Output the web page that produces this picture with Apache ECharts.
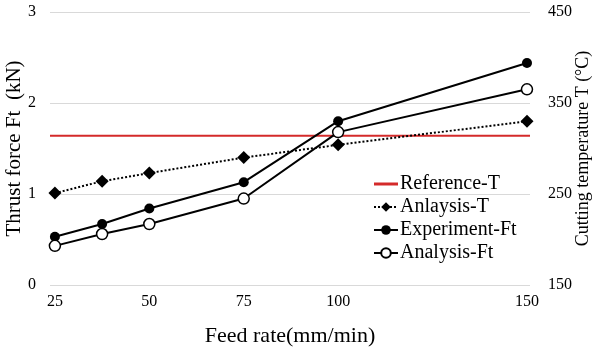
<!DOCTYPE html>
<html>
<head>
<meta charset="utf-8">
<script src="https://cdn.jsdelivr.net/npm/echarts@6/dist/echarts.min.js"></script>
<style>
  html, body { margin: 0; padding: 0; background: #fff; }
  #chart { width: 600px; height: 354px; }
</style>
</head>
<body>
<div id="chart"></div>
<script>
// feed rate (mm/min)
var feedRate = [25, 37.5, 50, 75, 100, 150];
var xTicks = [25, 50, 75, 100, 150];
// temperatures (right axis, °C)
var referenceT = 314;
var analysisT = [251, 264, 273, 290, 304, 330];
// thrust force (left axis, kN)
var experimentFt = [0.53, 0.67, 0.84, 1.13, 1.80, 2.44];
var analysisFt = [0.43, 0.56, 0.67, 0.95, 1.68, 2.15];

var xMin = 23.7, xMax = 150.8;

function pairs(ys) {
  return feedRate.map(function (x, i) { return [x, ys[i]]; });
}

var serif = 'Liberation Serif';
var chartDom = document.getElementById('chart');
var myChart = echarts.init(chartDom);
var option = {
  animation: false,
  textStyle: {fontFamily: serif, color: '#000'},
  grid: {left: 50, right: 70, top: 12, bottom: 69, outerBoundsMode: 'none', containLabel: false},
  legend: {
    orient: 'vertical',
    left: 368, top: 169,
    itemGap: 3,
    itemWidth: 24, itemHeight: 12,
    align: 'left',
    textStyle: {fontFamily: serif, fontSize: 20, color: '#000', padding: [0, 0, 0, -3]},
    data: [
      {name: 'Reference-T', icon: 'path://M0,0L20,0L20,2.5L0,2.5Z', itemStyle: {color: '#d42a2a'}},
      'Anlaysis-T', 'Experiment-Ft', 'Analysis-Ft'
    ]
  },
  xAxis: {
    type: 'value', min: xMin, max: xMax,
    name: 'Feed rate(mm/min)', nameLocation: 'middle', nameGap: 40, nameMoveOverlap: false,
    nameTextStyle: {fontFamily: serif, fontSize: 22, color: '#000'},
    axisLine: {show: false}, axisTick: {show: false}, splitLine: {show: false},
    axisLabel: {customValues: xTicks, fontFamily: serif, fontSize: 16, color: '#000', margin: 9}
  },
  yAxis: [
    {
      type: 'value', min: 0, max: 3, interval: 1,
      name: 'Thrust force Ft  (kN)', nameLocation: 'middle', nameRotate: 90, nameGap: 25,
      nameMoveOverlap: false,
      nameTextStyle: {fontFamily: serif, fontSize: 21, color: '#000'},
      axisLine: {show: false}, axisTick: {show: false},
      splitLine: {lineStyle: {color: '#d9d9d9', width: 1}},
      axisLabel: {fontFamily: serif, fontSize: 16, color: '#000', margin: 14}
    },
    {
      type: 'value', min: 150, max: 450, interval: 100,
      name: 'Cutting temperature T (°C)', nameLocation: 'middle', nameRotate: 90, nameGap: 44,
      nameMoveOverlap: false,
      nameTextStyle: {fontFamily: serif, fontSize: 18, color: '#000'},
      axisLine: {show: false}, axisTick: {show: false}, splitLine: {show: false},
      axisLabel: {fontFamily: serif, fontSize: 16, color: '#000', margin: 18}
    }
  ],
  series: [
    {
      name: 'Reference-T', type: 'line', yAxisIndex: 1,
      data: [[xMin, referenceT], [xMax, referenceT]],
      symbol: 'none', lineStyle: {color: '#d42a2a', width: 2}, itemStyle: {color: '#d42a2a'}
    },
    {
      name: 'Anlaysis-T', type: 'line', yAxisIndex: 1,
      data: pairs(analysisT),
      symbol: 'diamond', symbolSize: 13,
      lineStyle: {color: '#000', width: 2, type: [2, 2]},
      itemStyle: {color: '#000'}
    },
    {
      name: 'Experiment-Ft', type: 'line',
      data: pairs(experimentFt),
      symbol: 'circle', symbolSize: 10,
      lineStyle: {color: '#000', width: 2},
      itemStyle: {color: '#000'}
    },
    {
      name: 'Analysis-Ft', type: 'line',
      data: pairs(analysisFt),
      symbol: 'circle', symbolSize: 11,
      lineStyle: {color: '#000', width: 2},
      itemStyle: {color: '#fff', borderColor: '#000', borderWidth: 1.5}
    }
  ]
};
option && myChart.setOption(option);
</script>
</body>
</html>
